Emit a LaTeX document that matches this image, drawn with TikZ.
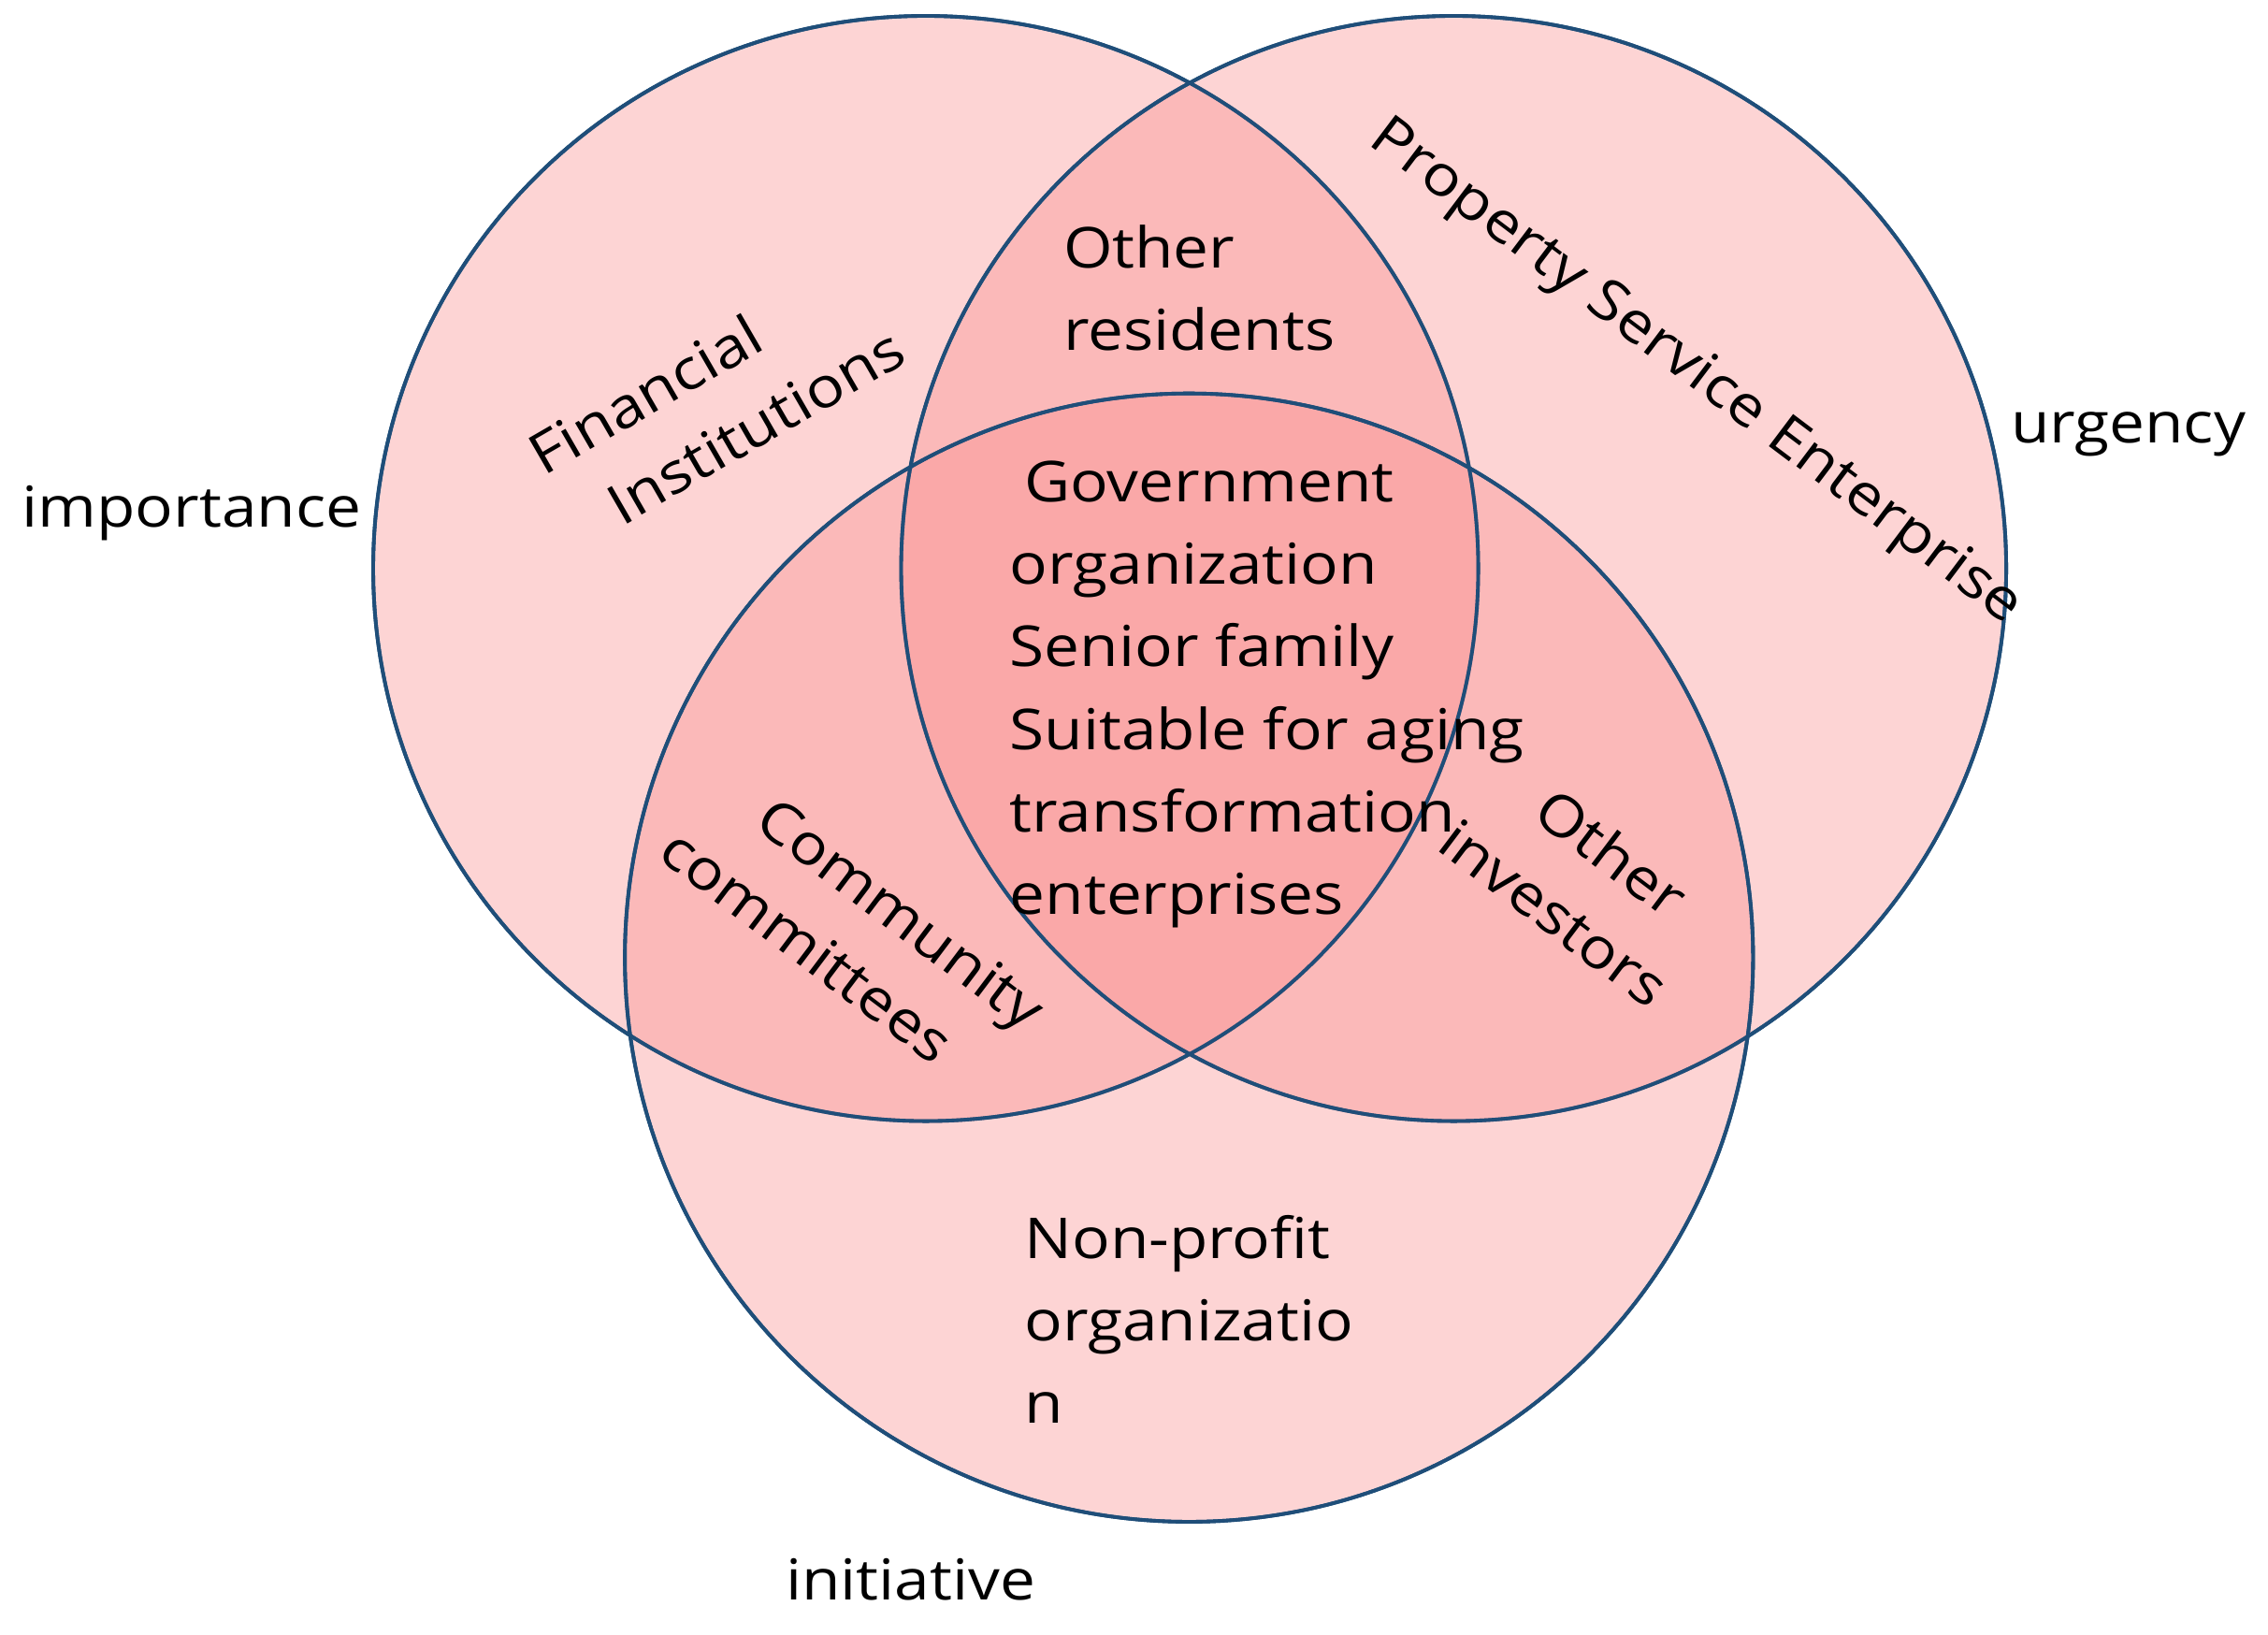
\documentclass[tikz,border=0pt]{standalone}
\usepackage{fontspec}
\setmainfont[FakeStretch=1.12]{Open Sans}
\definecolor{vfill}{RGB}{250,139,139}
\definecolor{vline}{RGB}{31,78,121}
\begin{document}
\begin{tikzpicture}[x=1pt,y=1pt,
  circ/.style={fill=vfill,fill opacity=0.37,draw=vline,line width=2.5pt,draw opacity=1},
  txt/.style={font=\fontsize{39}{57}\selectfont,align=left,inner sep=0pt,text=black}]
\useasboundingbox (0,0) rectangle (1568,1130);
\fill[white] (0,0) rectangle (1568,1130);
\path[circ] (640,737) circle (382);
\path[circ] (1005,737) circle (382);
\path[circ] (822,468) circle (390);
\draw[vline,line width=2.5pt] (640,737) circle (382) (1005,737) circle (382) (822,468) circle (390);
\node[txt,anchor=west] (res) at (735,931) {Other\\residents};
\node[txt,anchor=west] (gov) at (698,650) {\hspace{10pt}Government\\organization\\Senior family\\Suitable for aging\\transformation\\enterprises};
\node[txt,anchor=west] (npo) at (708,218) {Non-profit\\organizatio\\n};
\node[txt,rotate=30] (fin) at (495,853) {Financial\\\hspace{30pt}Institutions};
\node[txt,rotate=-37] (pse) at (1172,872) {Property Service Enterprise};
\node[txt,rotate=-37] (com) at (590,488) {\hspace{40pt}Community\\committees};
\node[txt,rotate=-37] (inv) at (1092,522) {\hspace{40pt}Other\\investors};
\node[txt,anchor=west] (imp) at (15,775) {importance};
\node[txt,anchor=west] (urg) at (1390,830) {urgency};
\node[txt,anchor=west] (ini) at (543,38) {initiative};
\end{tikzpicture}
\end{document}
